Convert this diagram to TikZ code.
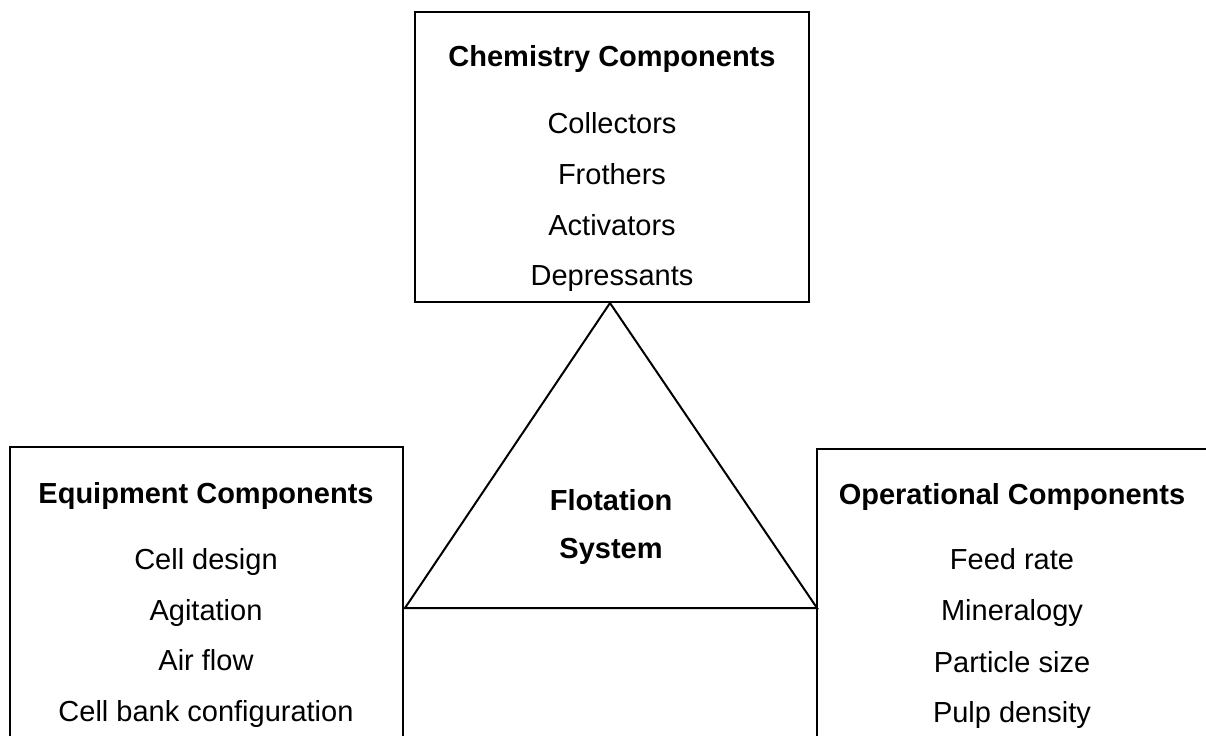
\documentclass[tikz,border=0pt]{standalone}
\usepackage{fontspec}
\setmainfont{Liberation Sans}
\begin{document}
\begin{tikzpicture}[x=0.5pt,y=-0.5pt,
  frame/.style={draw=black,line width=1pt},
  item/.style={anchor=base,inner sep=0pt,font=\fontsize{14.5}{17}\selectfont},
  head/.style={item,font=\fontsize{14.5}{17}\selectfont\bfseries}]
\useasboundingbox (0,0) rectangle (1206,735);
\clip (0,0) rectangle (1206,735);
\fill[white] (0,0) rectangle (1206,735);

% component boxes (the lower two run past the page edge)
\coordinate (chemNW) at (415,12);
\coordinate (chemSE) at (809,302);
\draw[frame] (chemNW) rectangle (chemSE);
\coordinate (equNW) at (10,447);
\coordinate (equSE) at (403,770);
\draw[frame] (equNW) rectangle (equSE);
\coordinate (opNW) at (817,449);
\coordinate (opSE) at (1240,770);
\draw[frame] (opNW) rectangle (opSE);

% central triangle
\coordinate (apex) at (610,303);
\coordinate (baseL) at (405,608);
\coordinate (baseR) at (817,608);
\draw[frame,line join=miter] (apex) -- (baseL) -- (baseR) -- cycle;

% chemistry
\node[head] (chemH) at (612,66) {Chemistry Components};
\node[item] (chem1) at (612,133) {Collectors};
\node[item] (chem2) at (612,184) {Frothers};
\node[item] (chem3) at (612,235) {Activators};
\node[item] (chem4) at (612,285) {Depressants};

% equipment
\node[head] (equH) at (206,503) {Equipment Components};
\node[item] (equ1) at (206,569) {Cell design};
\node[item] (equ2) at (206,620) {Agitation};
\node[item] (equ3) at (206,670) {Air flow};
\node[item] (equ4) at (206,721) {Cell bank configuration};

% operational
\node[head] (opH) at (1012,504) {Operational Components};
\node[item] (op1) at (1012,569) {Feed rate};
\node[item] (op2) at (1012,620) {Mineralogy};
\node[item] (op3) at (1012,672) {Particle size};
\node[item] (op4) at (1012,722) {Pulp density};

% centre label
\node[head] (flot1) at (611,510) {Flotation};
\node[head] (flot2) at (611,558) {System};
\end{tikzpicture}
\end{document}
